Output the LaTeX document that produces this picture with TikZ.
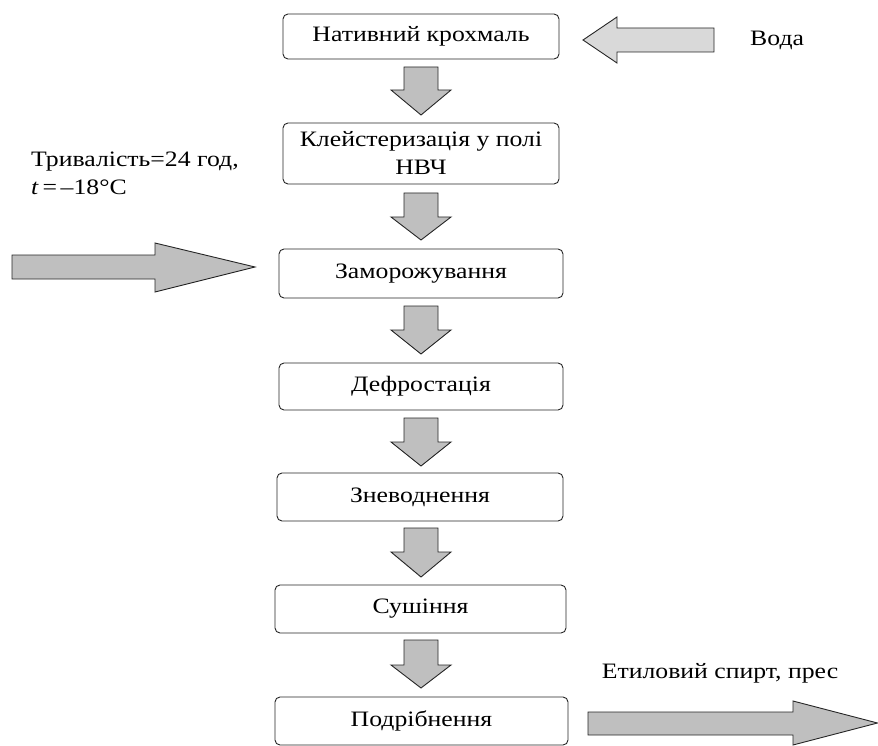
\documentclass[tikz,border=0pt]{standalone}
\usepackage{fontspec}
\setmainfont{Liberation Serif}[FakeStretch=1.17]
\usetikzlibrary{calc}
\begin{document}
\begin{tikzpicture}[x=1pt,y=-1pt,
  stepbox/.style={draw=black!85,line width=0.9pt,rounded corners=5pt,fill=white,
    align=center,inner sep=0pt,font=\fontsize{22}{28}\selectfont},
  blk/.style={draw=black!85,line width=0.9pt,fill=black!25,line join=miter},
  blklight/.style={draw=black!85,line width=0.9pt,fill=black!15,line join=miter},
  lbl/.style={font=\fontsize{22}{28}\selectfont,inner sep=0pt}]
\useasboundingbox (0,0) rectangle (878,746);
\newcommand\DownBlk[3]{%
  \draw[blk] (404,#1) -- (438,#1) -- (438,#2) -- (451,#2) -- (421,#3) -- (391,#2) -- (404,#2) -- cycle;}
\node[stepbox,minimum width=276,minimum height=45] (b1) at (421,36.5) {Нативний крохмаль};
\node[stepbox,minimum width=276,minimum height=61] (b2) at (421,153.5) {Клейстеризація у полі\\НВЧ};
\node[stepbox,minimum width=284,minimum height=49] (b3) at (421,273.5) {Заморожування};
\node[stepbox,minimum width=284,minimum height=47] (b4) at (421,386.5) {Дефростація};
\node[stepbox,minimum width=286,minimum height=48] (b5) at (420,497) {Зневоднення};
\node[stepbox,minimum width=291,minimum height=48] (b6) at (420.5,609) {Сушіння};
\node[stepbox,minimum width=293,minimum height=48] (b7) at (421.5,721) {Подрібнення};
\DownBlk{67}{90}{115}
\DownBlk{193}{217}{240}
\DownBlk{306}{330}{354}
\DownBlk{418}{442}{466}
\DownBlk{528}{552}{577}
\DownBlk{640}{665}{688}
% water arrow
\draw[blklight] (714,28) -- (617,28) -- (617,17) -- (583,40) -- (617,63) -- (617,52) -- (714,52) -- cycle;
\node[lbl,anchor=west] (voda) at (750,40) {Вода};
% left arrow
\draw[blk] (12,255) -- (155,255) -- (155,243) -- (255,267) -- (155,292) -- (155,279) -- (12,279) -- cycle;
\node[lbl,anchor=base west,align=left] (cond) at (31,195) {Тривалість=24 год,\\\textit{t}\,=\,–18°C};
% bottom arrow
\draw[blk] (588,712) -- (793,712) -- (793,701) -- (877.5,723) -- (793,745) -- (793,735) -- (588,735) -- cycle;
\node[lbl] (spirt) at (720,673) {Етиловий спирт, прес};
\end{tikzpicture}
\end{document}
